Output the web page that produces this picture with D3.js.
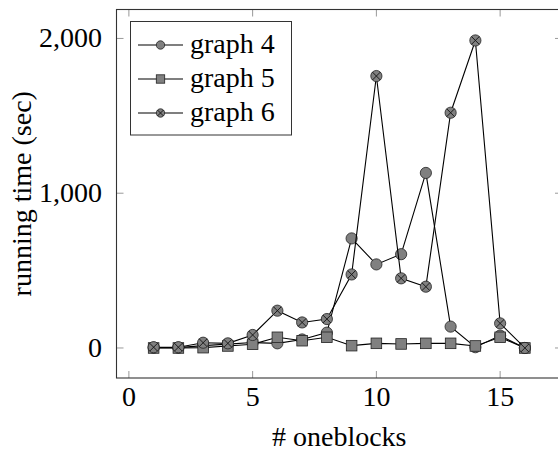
<!DOCTYPE html>
<html>
<head>
<meta charset="utf-8">
<script src="https://cdn.jsdelivr.net/npm/d3@7"></script>
<style>
body { margin: 0; background: #fff; }
svg { display: block; }
text { font-family: "Liberation Serif", "Times New Roman", serif; fill: #000; }
</style>
</head>
<body>
<div id="chart"></div>
<script>
// data
var blocks = [1, 2, 3, 4, 5, 6, 7, 8, 9, 10, 11, 12, 13, 14, 15, 16];
var graph4 = [2, 2, 15, 25, 35, 30, 55, 99, 708, 540, 606, 1131, 138, 5, 80, 0];
var graph5 = [0, 0, 2, 13, 24, 69, 47, 69, 15, 30, 26, 30, 30, 13, 69, 0];
var graph6 = [5, 5, 34, 30, 84, 241, 165, 187, 475, 1757, 450, 396, 1520, 1987, 159, 0];
var seriesNames = ["graph 4", "graph 5", "graph 6"];
var seriesMarks = ["circle", "square", "otimes"];
var xTicks = [0, 5, 10, 15];
var yTicks = [0, 1000, 2000];

var W = 558, H = 452;
// plot frame (window.top is taken, so m.* here)
var m = {left: 116.5, top: 9.5, right: 562, bottom: 378};

var svg = d3.select("#chart").append("svg")
  .attr("width", W)
  .attr("height", H);

var x = d3.scaleLinear().domain([-0.5, 17.5]).range([m.left, m.right]);
var y = d3.scaleLinear().domain([-194, 2187]).range([m.bottom, m.top]);

// ticks (inside, on all four sides)
var tickLen = 7;
var ticks = svg.append("g").attr("stroke", "#999").attr("stroke-width", 1);
xTicks.forEach(function(t) {
  ticks.append("line").attr("x1", x(t)).attr("x2", x(t)).attr("y1", m.bottom).attr("y2", m.bottom - tickLen);
  ticks.append("line").attr("x1", x(t)).attr("x2", x(t)).attr("y1", m.top).attr("y2", m.top + tickLen);
});
yTicks.forEach(function(t) {
  ticks.append("line").attr("x1", m.left).attr("x2", m.left + tickLen).attr("y1", y(t)).attr("y2", y(t));
  ticks.append("line").attr("x1", m.right).attr("x2", m.right - tickLen).attr("y1", y(t)).attr("y2", y(t));
});

// frame
svg.append("rect")
  .attr("x", m.left).attr("y", m.top)
  .attr("width", m.right - m.left).attr("height", m.bottom - m.top)
  .attr("fill", "none").attr("stroke", "#333").attr("stroke-width", 1.1);

// tick labels
svg.selectAll(".xlab").data(xTicks).enter().append("text")
  .attr("class", "xlab")
  .attr("x", function(d) { return x(d); })
  .attr("y", 406)
  .attr("text-anchor", "middle")
  .style("font-size", "28px")
  .text(function(d) { return d; });

var fmt = d3.format(",");
svg.selectAll(".ylab").data(yTicks).enter().append("text")
  .attr("class", "ylab")
  .attr("x", 102)
  .attr("y", function(d) { return y(d) + 9; })
  .attr("text-anchor", "end")
  .style("font-size", "28px")
  .text(function(d) { return fmt(d); });

// axis titles
svg.append("text")
  .attr("x", (m.left + m.right) / 2)
  .attr("y", 446)
  .attr("text-anchor", "middle")
  .style("font-size", "28px")
  .text("# oneblocks");

svg.append("text")
  .attr("transform", "translate(31," + ((m.top + m.bottom) / 2) + ") rotate(-90)")
  .attr("text-anchor", "middle")
  .style("font-size", "28px")
  .text("running time (sec)");

// marker drawing
function drawMark(g, kind, cx, cy, r) {
  if (kind == "square") {
    g.append("rect")
      .attr("x", cx - r).attr("y", cy - r)
      .attr("width", 2 * r).attr("height", 2 * r)
      .attr("fill", "#808080").attr("stroke", "#222").attr("stroke-width", 0.8);
  } else {
    g.append("circle")
      .attr("cx", cx).attr("cy", cy).attr("r", r)
      .attr("fill", "#808080").attr("stroke", "#222").attr("stroke-width", 0.8);
    if (kind == "otimes") {
      var d = r * 0.7071;
      g.append("line").attr("x1", cx - d).attr("y1", cy - d).attr("x2", cx + d).attr("y2", cy + d)
        .attr("stroke", "#111").attr("stroke-width", 0.9);
      g.append("line").attr("x1", cx - d).attr("y1", cy + d).attr("x2", cx + d).attr("y2", cy - d)
        .attr("stroke", "#111").attr("stroke-width", 0.9);
    }
  }
}

var line = d3.line()
  .x(function(d) { return x(d[0]); })
  .y(function(d) { return y(d[1]); });

var plot = svg.append("g");
[graph4, graph5, graph6].forEach(function(vals, i) {
  var pts = blocks.map(function(b, j) { return [b, vals[j]]; });
  var g = plot.append("g");
  g.append("path")
    .attr("d", line(pts))
    .attr("fill", "none")
    .attr("stroke", "#000")
    .attr("stroke-width", 1.1);
  pts.forEach(function(p) {
    drawMark(g, seriesMarks[i], x(p[0]), y(p[1]), seriesMarks[i] == "square" ? 5.3 : 5.6);
  });
});

// legend
var lg = svg.append("g");
lg.append("rect")
  .attr("x", 130.5).attr("y", 21.5)
  .attr("width", 161).attr("height", 113.5)
  .attr("fill", "#fff").attr("stroke", "#333").attr("stroke-width", 1);
seriesNames.forEach(function(name, i) {
  var cy = 45 + i * 34;
  lg.append("line")
    .attr("x1", 138).attr("x2", 183).attr("y1", cy).attr("y2", cy)
    .attr("stroke", "#000").attr("stroke-width", 1.1);
  drawMark(lg, seriesMarks[i], 160.5, cy, 4.2);
  lg.append("text")
    .attr("x", 190)
    .attr("y", cy + 8)
    .style("font-size", "28px")
    .text(name);
});
</script>
</body>
</html>
